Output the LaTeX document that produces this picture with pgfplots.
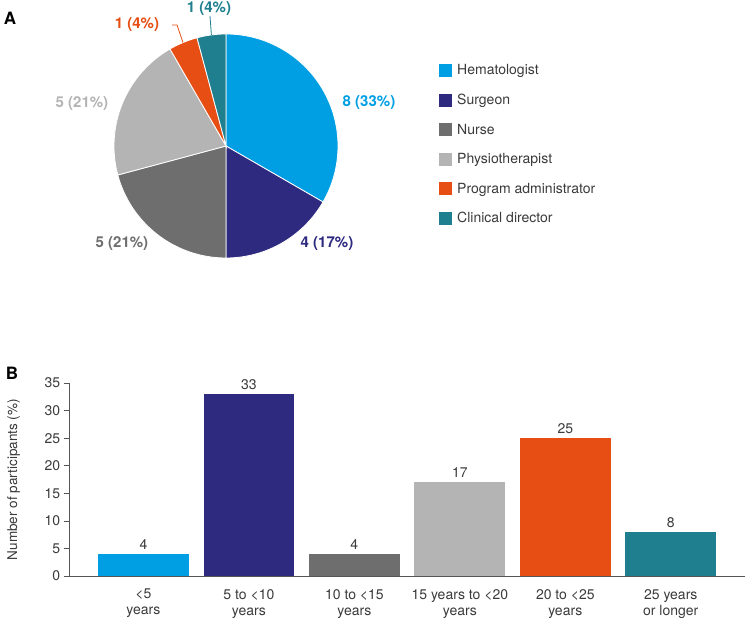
\documentclass[border=0pt]{standalone}
\usepackage{fontspec}
\setmainfont{TeX Gyre Heros}
\usepackage{pgfplots}
\pgfplotsset{compat=1.18}
\definecolor{hema}{HTML}{009FE3}
\definecolor{surg}{HTML}{2E2A80}
\definecolor{nurse}{HTML}{6F6E6F}
\definecolor{phys}{HTML}{B4B4B4}
\definecolor{admin}{HTML}{E64E13}
\definecolor{clin}{HTML}{1F7F8F}
\definecolor{txt}{HTML}{3A3A3A}
\definecolor{axisc}{HTML}{555555}
\newcommand\fs{\fontsize{14}{17}\selectfont}
\newcommand\fb{\fontsize{15}{18}\selectfont\bfseries}
\begin{document}
\begin{tikzpicture}[x=1pt,y=1pt]
\useasboundingbox (0,0) rectangle (747,618);
% ---------- Panel A: pie (counts 8,4,5,5,1,1 of 24; 15 degrees per participant, clockwise from top)
\begin{axis}[at={(0,0)}, anchor=south west, scale only axis, width=747pt, height=618pt,
  xmin=0, xmax=747, ymin=0, ymax=618, hide axis, clip=false,
  legend style={at={(0.5877,0.8989)}, anchor=north west, draw=none, fill=none, inner sep=0pt,
    row sep=13.8pt, font=\fs, text=txt, cells={anchor=west},
    /tikz/every odd column/.append style={column sep=3pt}},
  legend image code/.code={\fill[#1,draw=none] (0pt,-6.5pt) rectangle (13pt,6.5pt);},
  slice/.style={draw=white, line width=0.8pt, samples=60},
]
\addplot[slice, fill=hema, domain=-30:90] ({226+112*cos(x)},{472+112*sin(x)}) -- (226,472) -- cycle;
\addlegendentry{Hematologist}
\addplot[slice, fill=surg, domain=-90:-30] ({226+112*cos(x)},{472+112*sin(x)}) -- (226,472) -- cycle;
\addlegendentry{Surgeon}
\addplot[slice, fill=nurse, domain=-165:-90] ({226+112*cos(x)},{472+112*sin(x)}) -- (226,472) -- cycle;
\addlegendentry{Nurse}
\addplot[slice, fill=phys, domain=-240:-165] ({226+112*cos(x)},{472+112*sin(x)}) -- (226,472) -- cycle;
\addlegendentry{Physiotherapist}
\addplot[slice, fill=admin, domain=-255:-240] ({226+112*cos(x)},{472+112*sin(x)}) -- (226,472) -- cycle;
\addlegendentry{Program administrator}
\addplot[slice, fill=clin, domain=-270:-255] ({226+112*cos(x)},{472+112*sin(x)}) -- (226,472) -- cycle;
\addlegendentry{Clinical director}
% leader lines
\addplot[forget plot, admin, line width=0.8pt, no marks] coordinates {(172,593) (177,593) (183,575.5)};
\addplot[forget plot, clin, line width=0.8pt, no marks] coordinates {(210,602) (211.4,583)};
% labels
\node[font=\fb, text=hema] at (369,515) {8 (33\%)};
\node[font=\fb, text=surg] at (327,374) {4 (17\%)};
\node[font=\fb, text=nurse] at (122,374) {5 (21\%)};
\node[font=\fb, text=phys] at (82,514) {5 (21\%)};
\node[font=\fb, text=admin] at (137,593) {1 (4\%)};
\node[font=\fb, text=clin] at (209,609) {1 (4\%)};
\node[font=\fontsize{17}{20}\selectfont\bfseries, text=black] at (10,600) {A};
\node[font=\fontsize{17}{20}\selectfont\bfseries, text=black] at (12,245) {B};
\end{axis}
% ---------- Panel B: bars
\begin{axis}[at={(66,76)}, anchor=south west, scale only axis, width=675pt, height=193pt,
  xmin=-0.7, xmax=5.7, ymin=0, ymax=35, ytick={0,5,...,35},
  axis lines=left, axis line style={draw=axisc, line width=0.8pt, -},
  tick align=outside, major tick length=6pt,
  ytick style={draw=axisc, line width=0.8pt},
  xtick={0,...,5},
  xticklabels={{\textless5\\years},{5 to \textless10\\years},{10 to \textless15\\years},{15 years to \textless20\\years},{20 to \textless25\\years},{25 years\\or longer}},
  xtick style={draw=none},
  extra x ticks={-0.7,5.7}, extra x tick labels={},
  extra x tick style={tick style={draw=axisc, line width=0.8pt}, major tick length=7pt},
  ticklabel style={font=\fs, text=txt},
  xticklabel style={align=center, yshift=-3.5pt, font=\fontsize{14}{16}\selectfont},
  /pgf/number format/assume math mode=true,
  every axis y label/.style={at={(axis description cs:-0.083,0.5)}, rotate=90, anchor=center},
  ylabel={Number of participants (\%)}, ylabel style={font=\fontsize{13.5}{16}\selectfont, text=txt},
  mybar/.style={ybar, bar width=0.86, bar shift=0pt, draw=none, nodes near coords,
    every node near coord/.append style={font=\fs, text=txt, anchor=south, yshift=1pt}},
  clip=false,
]
\addplot[mybar, fill=hema] coordinates {(0,4)};
\addplot[mybar, fill=surg] coordinates {(1,33)};
\addplot[mybar, fill=nurse] coordinates {(2,4)};
\addplot[mybar, fill=phys] coordinates {(3,17)};
\addplot[mybar, fill=admin] coordinates {(4,25)};
\addplot[mybar, fill=clin] coordinates {(5,8)};
\end{axis}
\end{tikzpicture}
\end{document}
